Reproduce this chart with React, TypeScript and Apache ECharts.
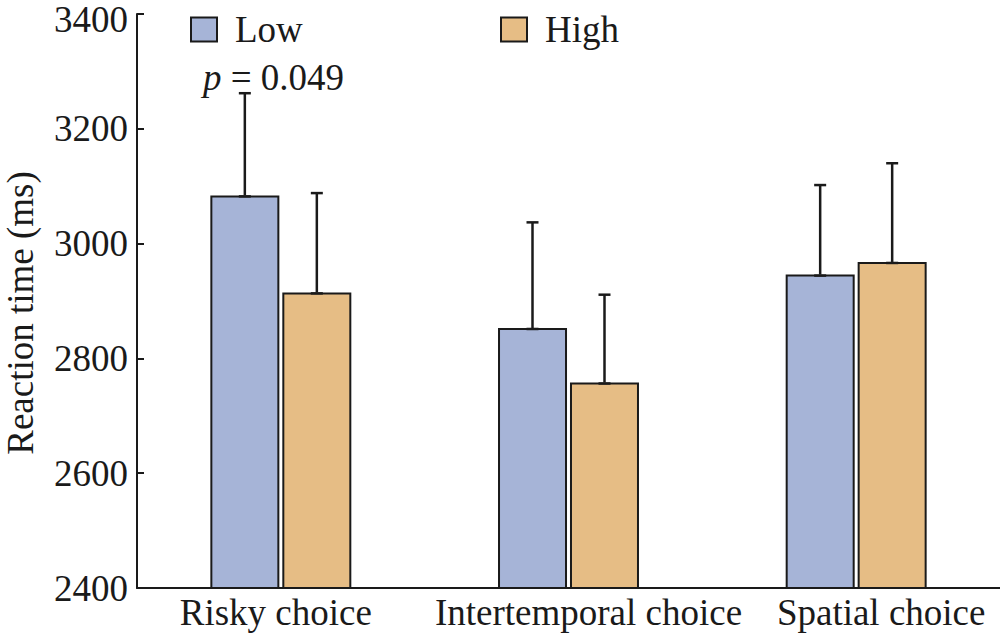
import React, { useEffect, useRef } from "react";
import * as echarts from "echarts";

const categories = ["Risky choice", "Intertemporal choice", "Spatial choice"];
const seriesNames = ["Low", "High"];
const lowMeans = [3084, 2853, 2946];
const lowErr = [178, 184, 156];
const highMeans = [2915, 2758, 2968];
const highErr = [173, 153, 172];
const yMin = 2400;
const yMax = 3400;
const yStep = 200;
const pLabel = " = 0.049";

const FONT = '"Liberation Serif", "Times New Roman", serif';
const INK = "#1a1a1a";
const LOW_COLOR = "#a6b4d7";
const HIGH_COLOR = "#e6bd85";
const BAR_W = 69;
const BAR_GAP_PX = 3;
const OFFSET = (BAR_W + BAR_GAP_PX) / 2;
// horizontal nudges of the category labels (px), as in the reference
const LABEL_SHIFT = [-5, 20, 25];

function errSeries(name: string, means: number[], errs: number[], dir: number) {
  return {
    type: "custom",
    name,
    z: 10,
    silent: true,
    encode: { x: 0, y: [1, 2] },
    data: means.map((m, i) => [i, m, m + errs[i]]),
    renderItem: (params: any, api: any) => {
      const idx = api.value(0);
      const lo = api.coord([idx, api.value(1)]);
      const hi = api.coord([idx, api.value(2)]);
      const cx = lo[0] + dir * OFFSET;
      const cap = 6;
      const style = { stroke: INK, lineWidth: 2.5 };
      return {
        type: "group",
        children: [
          { type: "line", shape: { x1: cx, y1: lo[1], x2: cx, y2: hi[1] }, style },
          { type: "line", shape: { x1: cx - cap, y1: hi[1], x2: cx + cap, y2: hi[1] }, style },
          { type: "line", shape: { x1: cx - cap, y1: lo[1] + 1, x2: cx + cap, y2: lo[1] + 1 }, style },
        ],
      };
    },
  };
}

export default function App() {
  const ref = useRef<HTMLDivElement>(null);
  useEffect(() => {
    if (!ref.current) return;
    const chart = echarts.init(ref.current, null, { renderer: "svg" });
    const barBase = {
      type: "bar",
      barWidth: BAR_W,
      barGap: ((BAR_GAP_PX / BAR_W) * 100).toFixed(1) + "%",
      itemStyle: { borderColor: INK, borderWidth: 2 },
    };
    const rich: any = {};
    LABEL_SHIFT.forEach((s, i) => {
      rich["c" + i] = {
        fontFamily: FONT,
        fontSize: 37,
        color: INK,
        padding: s >= 0 ? [0, 0, 0, 2 * s] : [0, -2 * s, 0, 0],
      };
    });
    const legendBase = {
      top: 6,
      icon: "rect",
      itemWidth: 26,
      itemHeight: 24,
      textStyle: { fontFamily: FONT, fontSize: 37, color: INK, padding: [0, 0, 0, 13] },
    };
    chart.setOption({
      animation: false,
      backgroundColor: "#ffffff",
      textStyle: { fontFamily: FONT, color: INK },
      grid: {
        left: 137,
        right: 0,
        top: 14,
        bottom: 47,
        containLabel: false,
        outerBoundsMode: "none",
      },
      legend: [
        { ...legendBase, data: [seriesNames[0]], left: 185 },
        { ...legendBase, data: [seriesNames[1]], left: 495 },
      ],
      xAxis: {
        type: "category",
        data: categories,
        axisLine: { show: true, lineStyle: { color: INK, width: 2 } },
        axisTick: { show: false },
        axisLabel: {
          interval: 0,
          hideOverlap: false,
          fontFamily: FONT,
          fontSize: 37,
          color: INK,
          margin: 6,
          formatter: (v: string, i: number) => `{c${i}|${v}}`,
          rich,
        },
      },
      yAxis: {
        type: "value",
        min: yMin,
        max: yMax,
        interval: yStep,
        splitLine: { show: false },
        axisLine: { show: true, lineStyle: { color: INK, width: 2 } },
        axisTick: { show: true, inside: true, length: 7, lineStyle: { color: INK, width: 2 } },
        axisLabel: {
          fontFamily: FONT,
          fontSize: 37,
          lineHeight: 30,
          color: INK,
          margin: 9,
          formatter: (v: number) => (v === yMax ? `{top|${v}}` : String(v)),
          rich: {
            top: { fontFamily: FONT, fontSize: 37, lineHeight: 30, color: INK, padding: [10, 0, 0, 0] },
          },
        },
      },
      graphic: [
        {
          type: "text",
          x: 20,
          y: 313,
          rotation: Math.PI / 2,
          style: {
            text: "Reaction time (ms)",
            font: `37px ${FONT}`,
            fill: INK,
            textAlign: "center",
            textVerticalAlign: "middle",
          },
        },
        {
          type: "text",
          left: 203,
          top: 59,
          style: {
            text: "{i|p}" + pLabel,
            font: `37px ${FONT}`,
            fill: INK,
            rich: {
              i: { fontFamily: FONT, fontSize: 37, fontStyle: "italic", fill: INK },
            },
          },
        },
      ],
      series: [
        { ...barBase, name: seriesNames[0], data: lowMeans, itemStyle: { ...barBase.itemStyle, color: LOW_COLOR } },
        { ...barBase, name: seriesNames[1], data: highMeans, itemStyle: { ...barBase.itemStyle, color: HIGH_COLOR } },
        errSeries("errLow", lowMeans, lowErr, -1),
        errSeries("errHigh", highMeans, highErr, 1),
      ],
    });
    return () => chart.dispose();
  }, []);
  return (
    <div
      ref={ref}
      style={{ position: "absolute", left: 0, top: 0, width: 1000, height: 635 }}
    />
  );
}
